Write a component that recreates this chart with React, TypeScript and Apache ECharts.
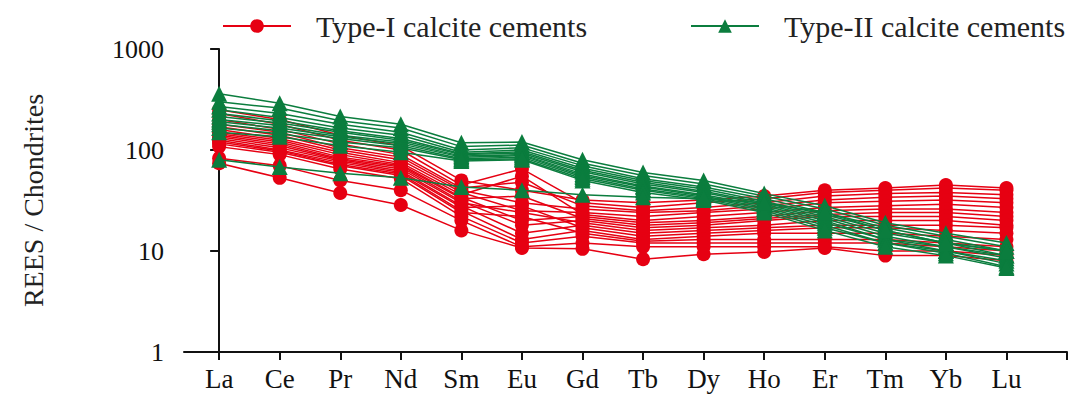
import React, { useEffect, useRef } from "react";
import * as echarts from "echarts";

const elements = ["La", "Ce", "Pr", "Nd", "Sm", "Eu", "Gd", "Tb", "Dy", "Ho", "Er", "Tm", "Yb", "Lu"];
const yTicks = [1, 10, 100, 1000];

const typeIName = "Type-I calcite cements";
const typeIIName = "Type-II calcite cements";

// Type-I calcite cements (chondrite-normalized)
const typeI: number[][] = [
  [250, 200, 140, 110, 50, 40, 32, 30, 32, 35, 40, 42, 45, 42],
  [230, 180, 125, 100, 45, 65, 30, 27, 30, 33, 38, 40, 42, 40],
  [200, 160, 115, 90, 42, 48, 28, 25, 27, 30, 35, 37, 38, 36],
  [180, 150, 105, 85, 40, 30, 26, 24, 25, 28, 32, 34, 35, 33],
  [170, 140, 100, 80, 38, 25, 24, 22, 24, 26, 30, 31, 32, 30],
  [160, 130, 95, 75, 36, 55, 23, 20, 22, 24, 27, 28, 29, 27],
  [150, 125, 90, 72, 34, 20, 22, 19, 20, 22, 25, 26, 26, 24],
  [145, 120, 85, 70, 33, 35, 21, 18, 19, 21, 23, 24, 24, 22],
  [140, 115, 82, 68, 31, 18, 20, 17, 18, 20, 22, 22, 22, 20],
  [135, 110, 80, 65, 30, 24, 19, 16, 17, 18, 20, 20, 20, 18],
  [130, 105, 78, 62, 28, 15, 18, 15, 16, 17, 18, 18, 18, 17],
  [125, 100, 75, 60, 27, 28, 17, 14, 15, 16, 17, 17, 16, 15],
  [120, 98, 72, 58, 25, 13, 16, 13, 14, 15, 15, 15, 14, 13],
  [115, 95, 70, 56, 24, 22, 15, 12.5, 13, 13, 13, 13, 12, 11],
  [108, 90, 65, 52, 22, 12, 14, 12, 12, 12, 12, 12, 11, 10],
  [83, 70, 50, 40, 20, 11, 12, 11, 11, 11, 11, 10, 10, 9],
  [74, 53, 37.5, 28.5, 16, 10.7, 10.5, 8.3, 9.3, 9.8, 10.7, 9, 9, 8],
];

// Type-II calcite cements (chondrite-normalized)
const typeII: number[][] = [
  [360, 290, 215, 180, 118, 120, 80, 60, 50, 37, 28, 19, 15, 12],
  [300, 260, 195, 165, 108, 112, 74, 56, 46, 35, 26, 18, 14, 11],
  [270, 230, 180, 150, 100, 105, 70, 52, 43, 33, 24, 17, 13, 10],
  [250, 210, 165, 140, 95, 100, 66, 50, 41, 31, 23, 16, 12, 10],
  [230, 195, 155, 130, 92, 96, 63, 48, 39, 30, 22, 15, 12, 9],
  [215, 185, 150, 125, 90, 93, 61, 46, 38, 29, 21, 14, 11, 9],
  [200, 175, 140, 120, 87, 90, 58, 44, 36, 28, 20, 13, 11, 8.5],
  [190, 165, 135, 115, 85, 88, 56, 43, 35, 27, 19, 13, 10, 8],
  [180, 155, 130, 110, 82, 85, 54, 41, 34, 26, 18, 12, 10, 7.5],
  [165, 145, 120, 105, 80, 82, 52, 40, 33, 25, 17, 12, 9.5, 7],
  [150, 135, 110, 95, 78, 80, 50, 38, 32, 24, 16, 11, 9, 6.8],
  [80, 68, 59, 53, 43, 40, 36, 34, 33, 30, 24, 16, 12, 10],
];

const RED = "#e60012";
const GREEN = "#0b7d3e";
const FONT = "Liberation Serif";

export default function App() {
  const ref = useRef<HTMLDivElement>(null);
  useEffect(() => {
    if (!ref.current) return;
    const chart = echarts.init(ref.current, null, { renderer: "svg" });
    const mk = (vals: number[], name: string, color: string, symbol: string, size: number) => ({
      type: "line",
      name,
      data: vals.map((v, i) => [i, v]),
      symbol,
      symbolSize: size,
      showAllSymbol: true,
      lineStyle: { color, width: 1.5 },
      itemStyle: { color },
      emphasis: { disabled: true },
      z: color === GREEN ? 3 : 2,
    });
    const series = [
      ...typeI.map((v) => mk(v, typeIName, RED, "circle", 14)),
      ...typeII.map((v) => mk(v, typeIIName, GREEN, "triangle", 16)),
    ];
    const legendText = { fontFamily: FONT, fontSize: 30, color: "#222", padding: [0, 0, 0, 20] };
    chart.setOption({
      animation: false,
      backgroundColor: "#fff",
      legend: [
        {
          data: [typeIName],
          left: 217,
          top: 6,
          itemWidth: 68,
          itemHeight: 17,
          textStyle: legendText,
          selectedMode: false,
        },
        {
          data: [typeIIName],
          left: 685,
          top: 6,
          itemWidth: 68,
          itemHeight: 17,
          textStyle: legendText,
          selectedMode: false,
        },
      ],
      grid: { left: 184, right: 3, top: 49, bottom: 44, outerBoundsMode: "none" },
      xAxis: {
        type: "value",
        min: -0.58,
        max: 14,
        axisLine: { lineStyle: { color: "#111", width: 2 } },
        axisTick: {
          show: true,
          length: 8,
          lineStyle: { color: "#111", width: 2 },
          customValues: elements.map((_, i) => i).concat([14]),
        },
        axisLabel: {
          customValues: elements.map((_, i) => i),
          formatter: (v: number) => elements[Math.round(v)] ?? "",
          fontFamily: FONT,
          fontSize: 27,
          color: "#111",
          margin: 13,
        },
        splitLine: { show: false },
      },
      yAxis: {
        type: "log",
        logBase: 10,
        min: yTicks[0],
        max: yTicks[yTicks.length - 1],
        name: "REES / Chondrites",
        nameLocation: "middle",
        nameGap: 137,
        nameTextStyle: { fontFamily: FONT, fontSize: 28, color: "#222" },
        axisLine: { show: true, lineStyle: { color: "#111", width: 2 } },
        axisTick: { show: true, length: 9, lineStyle: { color: "#111", width: 2 } },
        axisLabel: {
          fontFamily: FONT,
          fontSize: 26,
          color: "#111",
          margin: 20,
          formatter: (v: number) => String(Math.round(v)),
        },
        splitLine: { show: false },
      },
      series,
    });
    return () => chart.dispose();
  }, []);
  return (
    <div
      ref={ref}
      style={{ position: "absolute", left: 0, top: 0, width: 1070, height: 396 }}
    />
  );
}
